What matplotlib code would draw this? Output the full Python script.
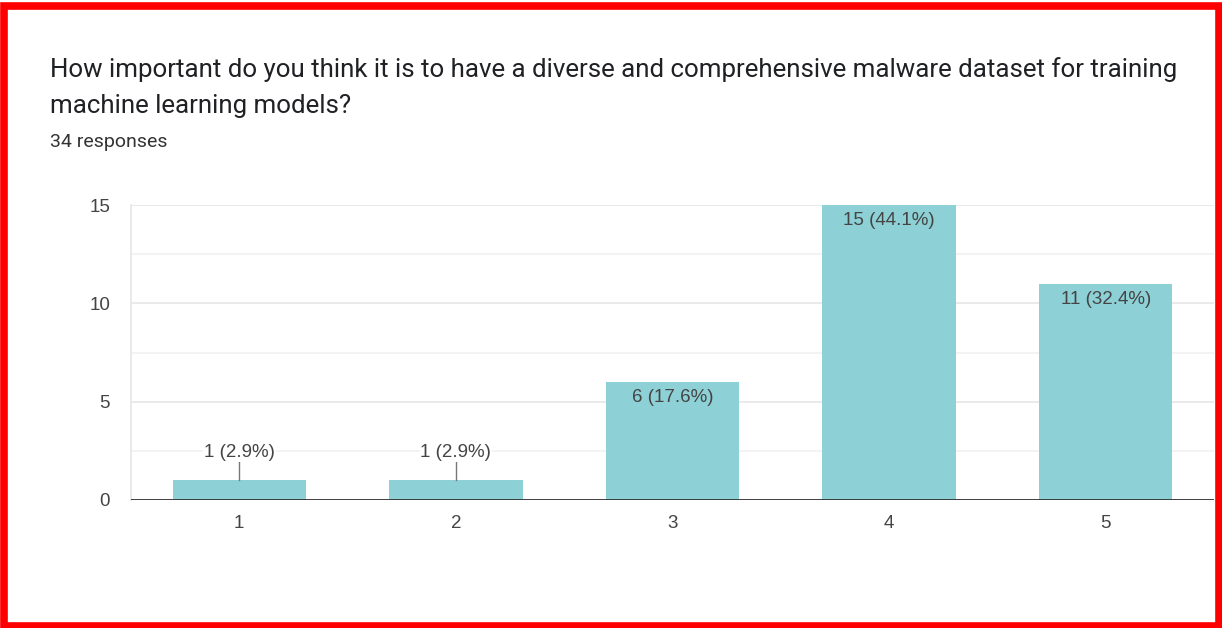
import matplotlib.pyplot as plt
from matplotlib.patches import Rectangle

# -----------------------------
# Survey data
# -----------------------------

ratings = ["1", "2", "3", "4", "5"]
counts = [1, 1, 6, 15, 11]
total_responses = 34

question = ("How important do you think it is to have a diverse and comprehensive malware dataset for training\n"
            "machine learning models?")

BAR_COLOR = "#8dd1d7"
TEXT_COLOR = "#444444"
CHART_FONT = ["Liberation Sans", "DejaVu Sans"]

plt.rcParams["font.family"] = ["Roboto", "DejaVu Sans"]

fig = plt.figure(figsize=(12.22, 6.28), dpi=100)
W, H = 1222, 628

ax = fig.add_axes([131 / W, 1 - 500 / H, (1214 - 131) / W, (500 - 205) / H])

positions = list(range(1, len(ratings) + 1))
bars = ax.bar(positions, counts, width=0.615, color=BAR_COLOR, zorder=3)

ax.set_xlim(0.5, 5.5)
ax.set_ylim(0, 15)

# grid: major every 5, lighter minor every 2.5
ax.set_yticks([0, 5, 10, 15])
ax.set_yticks([2.5, 7.5, 12.5], minor=True)
ax.grid(axis="y", which="major", color="#e6e6e6", linewidth=1.2, zorder=0)
ax.grid(axis="y", which="minor", color="#f1f1f1", linewidth=1.2, zorder=0)
ax.tick_params(axis="y", which="both", length=0, pad=15, labelsize=13.5, labelcolor=TEXT_COLOR)

ax.set_xticks(positions)
ax.set_xticklabels(ratings)
ax.tick_params(axis="x", length=0, pad=11, labelsize=13.5, labelcolor=TEXT_COLOR)
for lbl in ax.get_xticklabels() + ax.get_yticklabels():
    lbl.set_family(CHART_FONT)

for side in ["top", "right", "bottom"]:
    ax.spines[side].set_visible(False)
ax.spines["left"].set_color("#e6e6e6")
ax.spines["left"].set_linewidth(1.2)
ax.axhline(0, color="#333333", linewidth=1.3, zorder=4)

# value labels: inside tall bars, above short ones with a leader line
for pos, value in zip(positions, counts):
    label = f"{value} ({value / total_responses * 100:.1f}%)"
    if value >= 5:
        ax.text(pos, value - 0.78, label, ha="center", va="center", family=CHART_FONT,
                fontsize=13.5, color=TEXT_COLOR, zorder=5)
    else:
        ax.plot([pos, pos], [value, value + 0.95], color="#777777", linewidth=1, zorder=5)
        ax.text(pos, value + 1.4, label, ha="center", va="center", family=CHART_FONT,
                fontsize=13.5, color=TEXT_COLOR, zorder=5,
                bbox=dict(boxstyle="square,pad=0.05", facecolor="white", edgecolor="none"))

# title and subtitle
fig.text(50 / W, 1 - 57 / H, question, ha="left", va="top", fontsize=18.6,
         color="#202124", linespacing=1.62)
fig.text(50 / W, 1 - 142 / H, f"{total_responses} responses", ha="left", va="center",
         fontsize=14, color="#333333")

# red frame round the card
fig.patches.append(Rectangle((3.5 / W, 2.5 / H), (1218.5 - 3.5) / W, (622 - 2.5) / H,
                             transform=fig.transFigure, fill=False,
                             edgecolor="#ff0000", linewidth=5.5))

fig.savefig("out.png", dpi=100)
